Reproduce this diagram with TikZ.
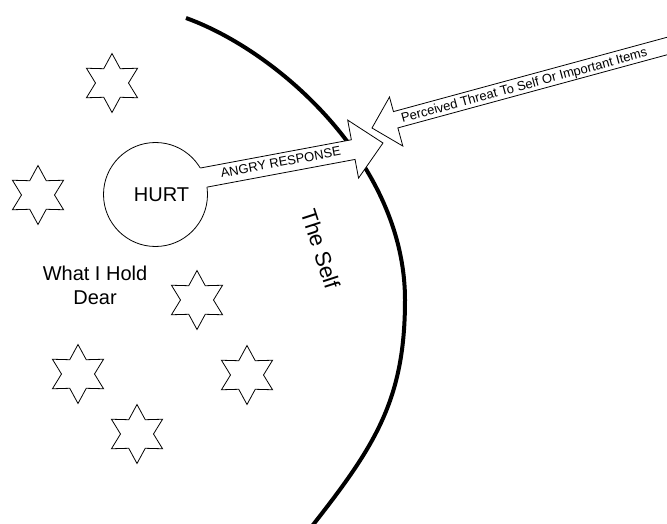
\documentclass[tikz,border=0pt]{standalone}
\usepackage{fontspec}
\setmainfont{Liberation Sans}
\newcommand{\drawhexstar}[2]{%
  \draw[starline] (#1,#2) +(90:29.5)
    \foreach \k in {0,...,5}{ -- +({120+60*\k}:16.5) -- +({150+60*\k}:29.5)} -- cycle;}
\begin{document}
\begin{tikzpicture}[x=1pt,y=-1pt,
  starline/.style={draw=black, line width=0.8pt, line join=miter},
  shapeline/.style={draw=black, line width=0.8pt, line join=miter},
  selfline/.style={draw=black, line width=4pt},
  smalltext/.style={font=\fontsize{13}{15}\selectfont, inner sep=0pt},
  bigtext/.style={font=\fontsize{20}{24}\selectfont, inner sep=0pt}]
\useasboundingbox (0,0) rectangle (667,524);
\clip (0,0) rectangle (667,524);

% The Self boundary
\coordinate (selftop) at (186,18);
\coordinate (selfmid) at (405,300);
\coordinate (selfbot) at (305,535);
\draw[selfline] (selftop) .. controls (280,52) and (405,165) .. (selfmid)
                          .. controls (405,403) and (373,449) .. (selfbot);

% stars
\drawhexstar{112}{83}
\drawhexstar{38}{195}
\drawhexstar{197}{300}
\drawhexstar{78}{374}
\drawhexstar{137}{434}
\drawhexstar{247}{375}

% HURT circle
\node[draw, circle, minimum size=104pt, inner sep=0pt, shapeline] (hurt) at (155.5,194.5) {};

% ANGRY RESPONSE arrow
\begin{scope}[shift={(383,143)}, rotate=10.6]
  \coordinate (angrytip) at (0,0);
  \fill[white] (-200,-9) -- (-30.5,-9) -- (-30.5,-29) -- (angrytip) -- (-30.5,30) -- (-30.5,11) -- (-200,11) -- cycle;
  \draw[shapeline] (-184.2,-9) -- (-30.5,-9) -- (-30.5,-29) -- (angrytip) -- (-30.5,30) -- (-30.5,11) -- (-181.15,11);
  \node[smalltext, transform shape, anchor=base] (angry) at (-104,4.4) {ANGRY RESPONSE};
\end{scope}

% Perceived threat arrow
\begin{scope}[shift={(372,128)}, rotate=15.2]
  \coordinate (threattip) at (0,0);
  \filldraw[shapeline, fill=white] (threattip) -- (25,-25.3) -- (25,-10.2) -- (420,-10.2) -- (420,6.7) -- (25,6.7) -- (25,25.5) -- cycle;
  \node[smalltext, transform shape, anchor=base] (threat) at (158,3) {Perceived Threat To Self Or Important Items};
\end{scope}

% texts
\node[bigtext] (hurttext) at (161.5,195) {HURT};
\node[bigtext, align=center] (dear) at (95,285) {What I Hold\\Dear};
\node[font=\fontsize{22}{26}\selectfont, inner sep=0pt, rotate=-72] (self) at (320.5,249) {The Self};
\end{tikzpicture}
\end{document}
